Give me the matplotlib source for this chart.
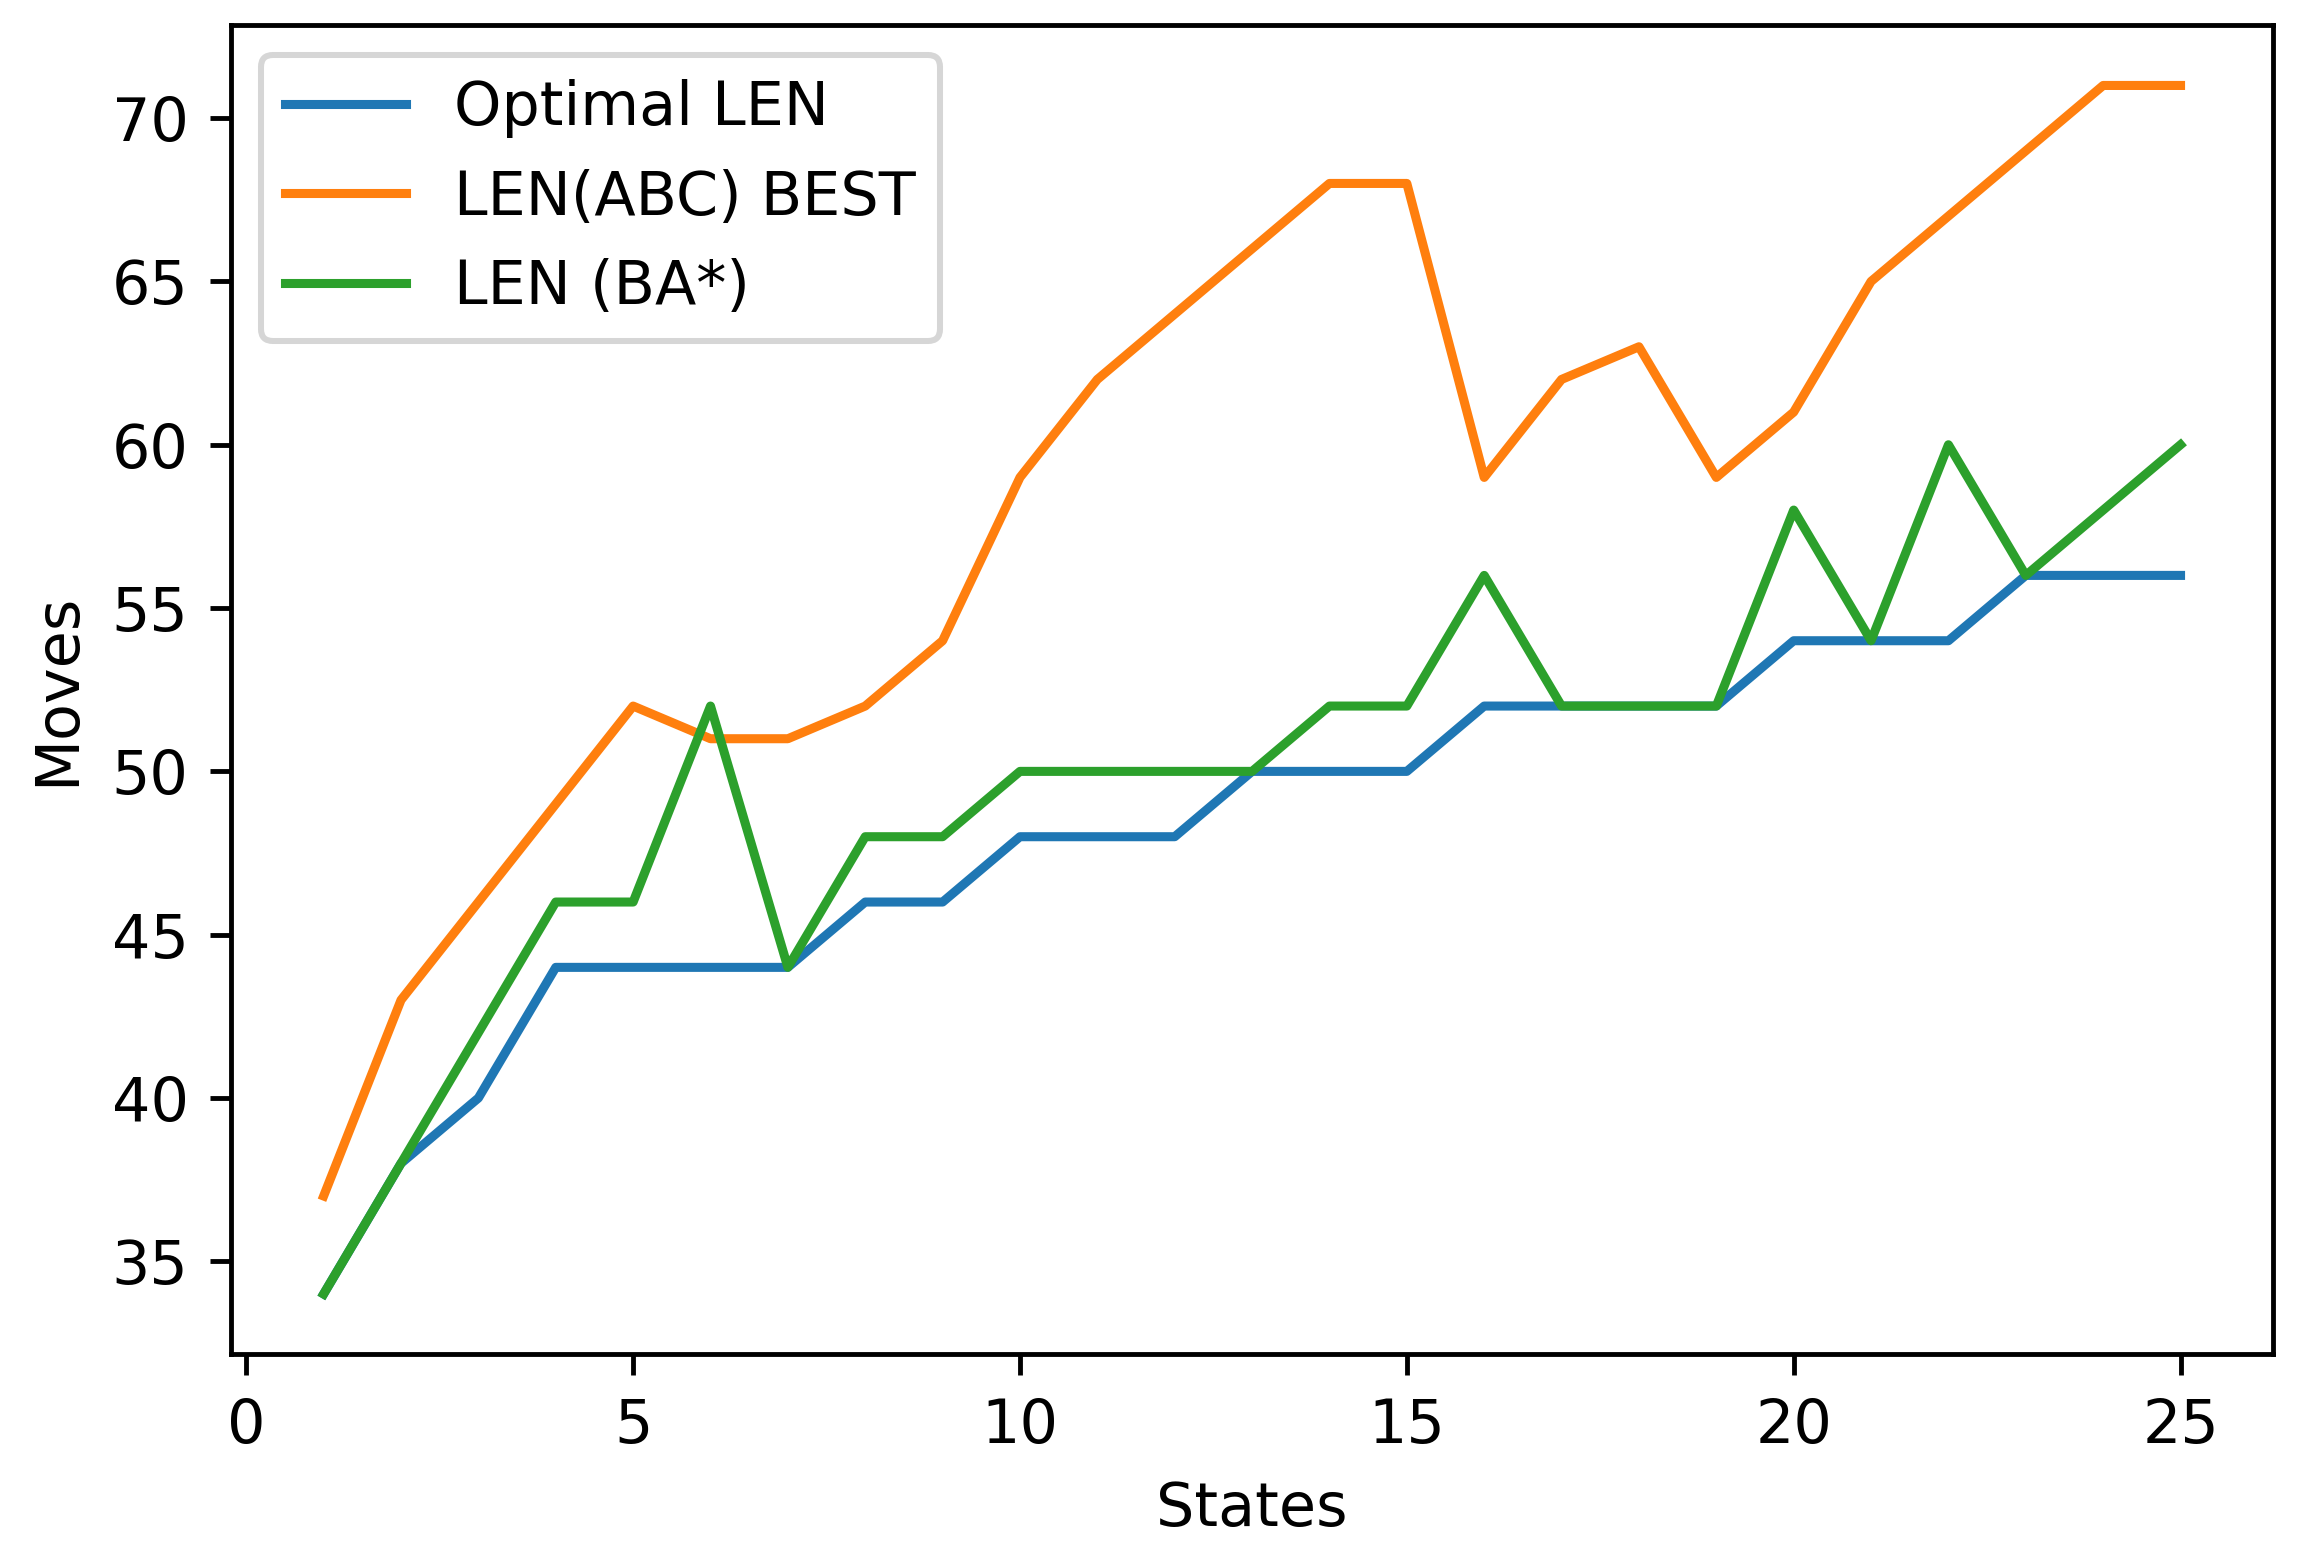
import numpy as np
import matplotlib
matplotlib.use("Agg")
import matplotlib.pyplot as plt

# values
states = list(range(1, 26))
optimal_len = [34, 38, 40, 44, 44, 44, 44, 46, 46, 48, 48, 48, 50, 50, 50,
               52, 52, 52, 52, 54, 54, 54, 56, 56, 56]
abc_best = [37, 43, 46, 49, 52, 51, 51, 52, 54, 59, 62, 64, 66, 68, 68,
            59, 62, 63, 59, 61, 65, 67, 69, 71, 71]
ba_star = [34, 38, 42, 46, 46, 52, 44, 48, 48, 50, 50, 50, 50, 52, 52,
           56, 52, 52, 52, 58, 54, 60, 56, 58, 60]
labels = ["Optimal LEN", "LEN(ABC) BEST", "LEN (BA*)"]

dpi = 435
fig, ax = plt.subplots(figsize=(2308 / dpi, 1564 / dpi), dpi=dpi)
fig.subplots_adjust(left=0.100, right=0.985, top=0.984, bottom=0.134)

ax.plot(states, optimal_len, label=labels[0])
ax.plot(states, abc_best, label=labels[1])
ax.plot(states, ba_star, label=labels[2])

ax.set_xlabel("States")
ax.set_ylabel("Moves")
ax.legend(loc="upper left")

fig.savefig("out.png", dpi=dpi)
